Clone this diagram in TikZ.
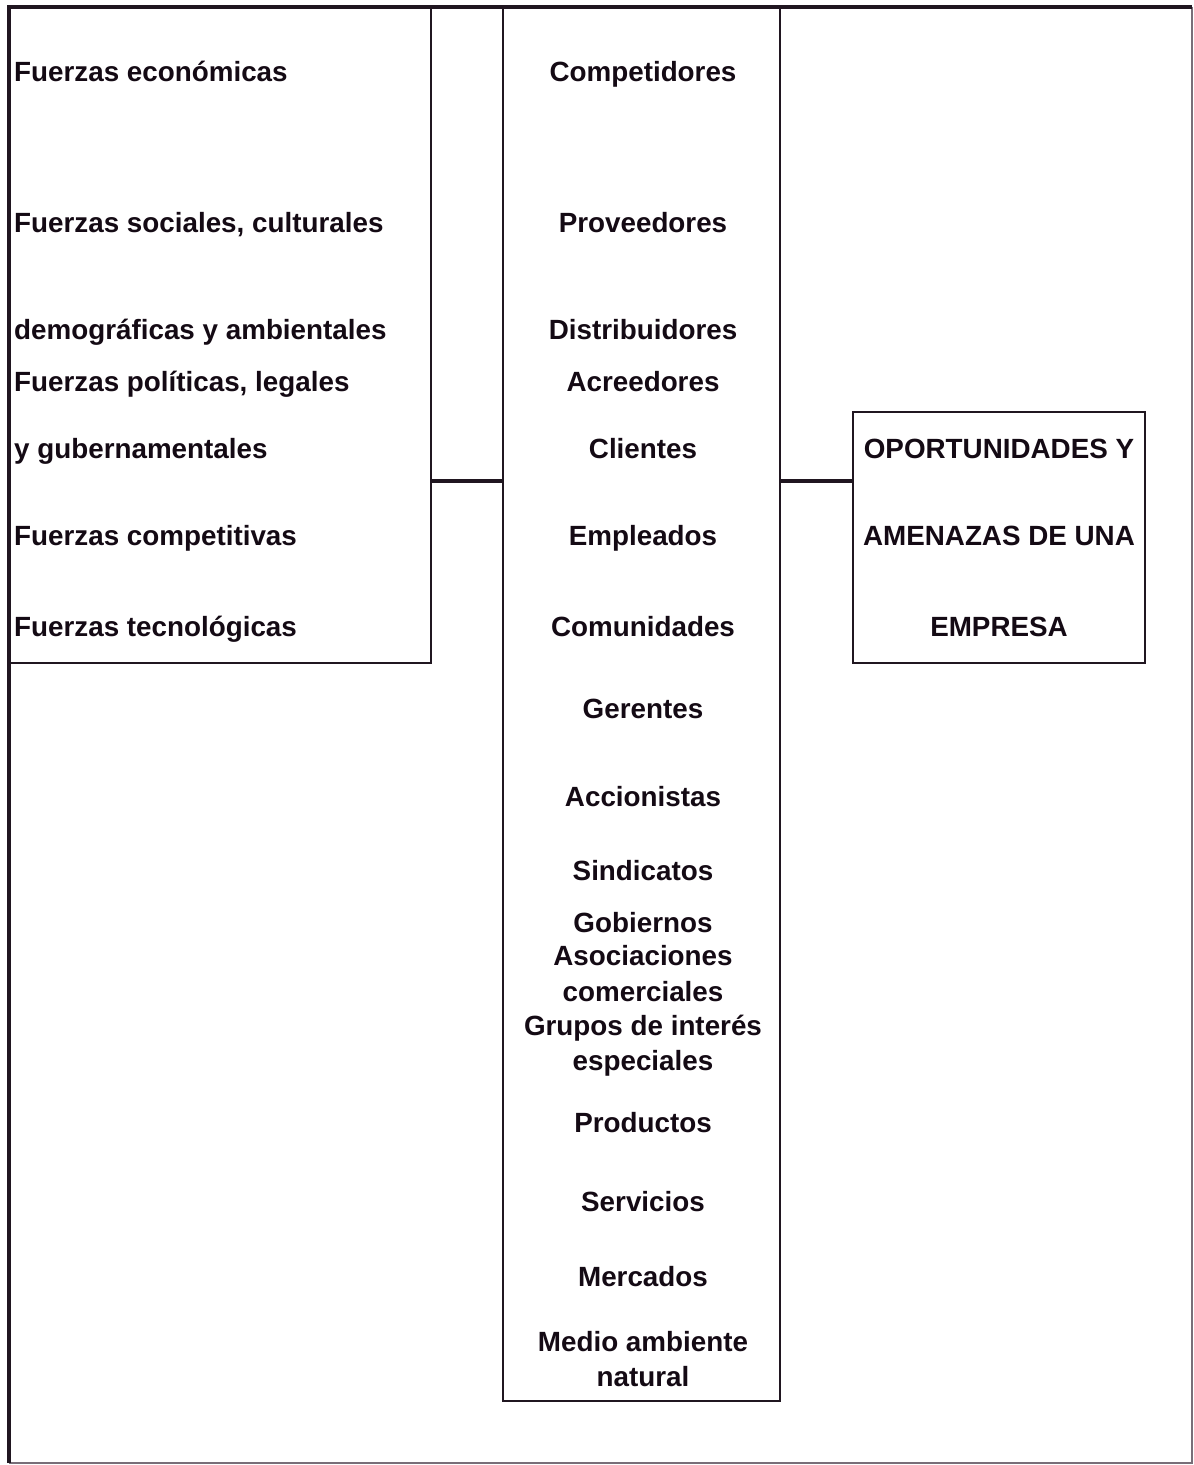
\documentclass[tikz,border=0pt]{standalone}
\usepackage{fontspec}
\setmainfont{Liberation Sans}
\begin{document}
\begin{tikzpicture}[x=1pt,y=-1pt,
  ink/.style={draw={rgb,255:red,32;green,22;blue,32}, line width=2.9pt},
  frame/.style={ink, rectangle, inner sep=0pt, fill=none},
  lbl/.style={inner sep=0pt, text={rgb,255:red,20;green,10;blue,20},
    font=\fontsize{27.8}{32}\selectfont\bfseries},
  leftlbl/.style={lbl, anchor=base west},
  midlbl/.style={lbl, anchor=base}]
\useasboundingbox (0,0) rectangle (1194,1465);
\fill[white] (0,0) rectangle (1194,1465);

% outer frame: faint right and bottom sides, dark left and top sides
\coordinate (otl) at (9,7);
\coordinate (obr) at (1192,1463);
\draw[draw={rgb,255:red,120;green,110;blue,120}, line width=1.2pt] (otl -| obr) -- (obr) -- (otl |- obr);
\draw[ink, line width=3.6pt] (otl |- obr) -- (otl) -- (otl -| obr);

% the three boxes
\node[frame, minimum width=422pt, minimum height=656pt] (fuerzas) at (220,335) {};
\node[frame, minimum width=277pt, minimum height=1394pt] (grupos) at (641.5,704) {};
\node[frame, minimum width=292pt, minimum height=251pt] (oya) at (999,537.5) {};

% connectors between the boxes
\coordinate (jy) at (0,481);
\draw[ink, line width=3.6pt] (fuerzas.east |- jy) -- (grupos.west |- jy);
\draw[ink, line width=3.2pt] (grupos.east |- jy) -- (oya.west |- jy);

% forces
\node[leftlbl] (f1) at (14,81) {Fuerzas económicas};
\node[leftlbl] (f2) at (14,232) {Fuerzas sociales, culturales};
\node[leftlbl] (f3) at (14,339) {demográficas y ambientales};
\node[leftlbl] (f4) at (14,391) {Fuerzas políticas, legales};
\node[leftlbl] (f5) at (14,458) {y gubernamentales};
\node[leftlbl] (f6) at (14,545) {Fuerzas competitivas};
\node[leftlbl] (f7) at (14,636) {Fuerzas tecnológicas};

% stakeholders
\node[midlbl] (g1) at (643,81) {Competidores};
\node[midlbl] (g2) at (643,232) {Proveedores};
\node[midlbl] (g3) at (643,339) {Distribuidores};
\node[midlbl] (g4) at (643,391) {Acreedores};
\node[midlbl] (g5) at (643,458) {Clientes};
\node[midlbl] (g6) at (643,545) {Empleados};
\node[midlbl] (g7) at (643,636) {Comunidades};
\node[midlbl] (g8) at (643,718) {Gerentes};
\node[midlbl] (g9) at (643,806) {Accionistas};
\node[midlbl] (g10) at (643,880) {Sindicatos};
\node[midlbl] (g11) at (643,932) {Gobiernos};
\node[midlbl] (g12) at (643,965) {Asociaciones};
\node[midlbl] (g13) at (643,1001) {comerciales};
\node[midlbl] (g14) at (643,1035) {Grupos de interés};
\node[midlbl] (g15) at (643,1070) {especiales};
\node[midlbl] (g16) at (643,1132) {Productos};
\node[midlbl] (g17) at (643,1211) {Servicios};
\node[midlbl] (g18) at (643,1286) {Mercados};
\node[midlbl] (g19) at (643,1351) {Medio ambiente};
\node[midlbl] (g20) at (643,1386) {natural};

% result
\node[midlbl] (r1) at (999,458) {OPORTUNIDADES Y};
\node[midlbl] (r2) at (999,545) {AMENAZAS DE UNA};
\node[midlbl] (r3) at (999,636) {EMPRESA};
\end{tikzpicture}
\end{document}
